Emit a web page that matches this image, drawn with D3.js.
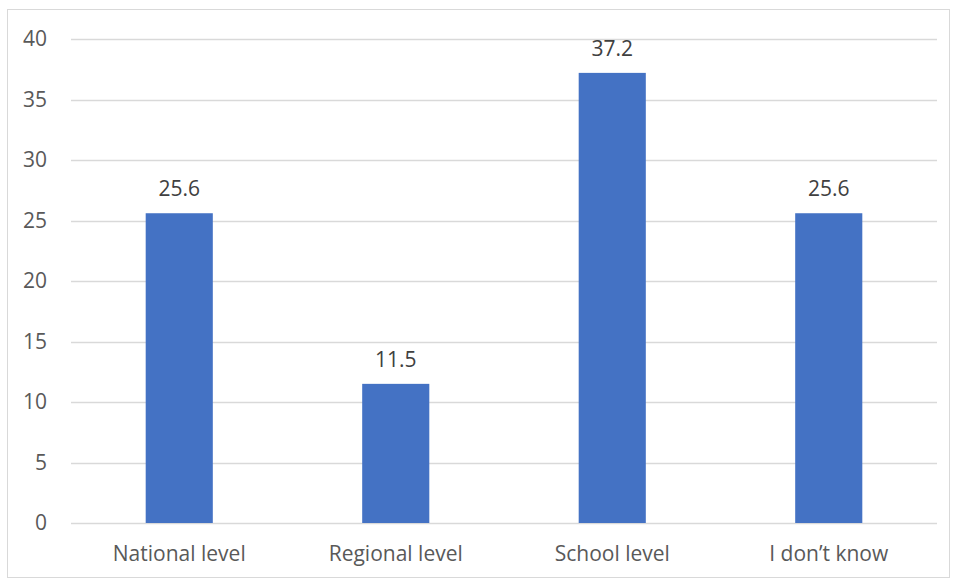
<!DOCTYPE html>
<html><head><meta charset="utf-8">
<script src="https://cdn.jsdelivr.net/npm/d3@7"></script>
<style>body{margin:0;background:#fff}svg{display:block}</style>
</head><body>
<script>
const categories = ["National level", "Regional level", "School level", "I don\u2019t know"];
const values = [25.6, 11.5, 37.2, 25.6];
const yTicks = [0, 5, 10, 15, 20, 25, 30, 35, 40];

(function () {
const W = 957, H = 581;
const svg = d3.select("body").append("svg").attr("width", W).attr("height", H);
svg.append("rect").attr("x", 7.5).attr("y", 9.5).attr("width", 942).attr("height", 568)
  .attr("fill", "#fff").attr("stroke", "#d9d9d9").attr("stroke-width", 1);

const mLeft = 71, mRight = 937, mTop = 39, mBottom = 523;
const x = d3.scaleBand().domain(categories).range([mLeft, mRight]).paddingInner(0.69).paddingOuter(0.345);
const y = d3.scaleLinear().domain([0, 40]).range([mBottom, mTop]);
const font = "'Open Sans', sans-serif";
const fs = 21;

const grid = svg.append("g");
grid.selectAll("line").data(yTicks).join("line")
  .attr("x1", mLeft).attr("x2", mRight)
  .attr("y1", d => Math.round(y(d)) + 0.5).attr("y2", d => Math.round(y(d)) + 0.5)
  .attr("stroke", "#d9d9d9").attr("stroke-width", 1.3);

const yAxis = svg.append("g").attr("transform", `translate(${mLeft},0)`)
  .call(d3.axisLeft(y).tickValues(yTicks).tickSize(0).tickPadding(24));
yAxis.select(".domain").remove();
yAxis.selectAll("text").attr("font-family", font).attr("font-size", fs).attr("fill", "#595959");

svg.append("g").selectAll("rect").data(values).join("rect")
  .attr("x", (d, i) => x(categories[i])).attr("width", x.bandwidth())
  .attr("y", d => y(d)).attr("height", d => y(0) - y(d))
  .attr("fill", "#4472c4");

svg.append("g").selectAll("text").data(values).join("text")
  .attr("x", (d, i) => x(categories[i]) + x.bandwidth() / 2)
  .attr("y", d => y(d) - 17)
  .attr("text-anchor", "middle").attr("font-family", font).attr("font-size", fs).attr("fill", "#404040")
  .text(d => d.toFixed(1));

const xAxis = svg.append("g").attr("transform", `translate(0,${mBottom})`)
  .call(d3.axisBottom(x).tickSize(0).tickPadding(23));
xAxis.select(".domain").remove();
xAxis.selectAll("text").attr("font-family", font).attr("font-size", fs).attr("fill", "#595959");
})();
</script>
</body></html>
